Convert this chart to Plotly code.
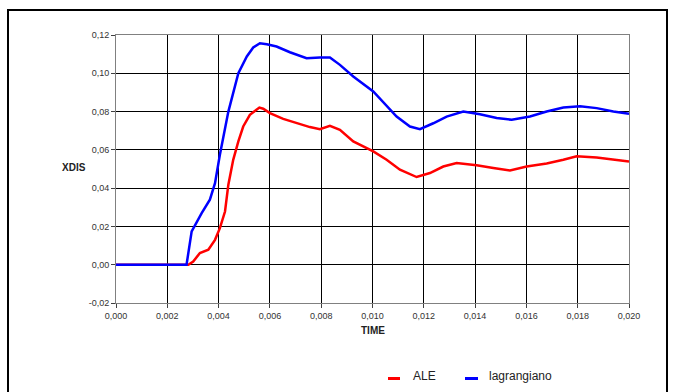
import plotly.graph_objects as go

# ALE series
ale_t = [0.0, 0.00282, 0.00301, 0.00327, 0.0036, 0.00386, 0.00405, 0.00425, 0.00438, 0.00457,
         0.00477, 0.00496, 0.00522, 0.00559, 0.00574, 0.006, 0.00652, 0.00704, 0.00756, 0.00795,
         0.00834, 0.00873, 0.00925, 0.01003, 0.01055, 0.01107, 0.01172, 0.01224, 0.01276, 0.01328,
         0.01406, 0.01471, 0.01536, 0.01601, 0.01679, 0.01744, 0.01796, 0.01874, 0.01939, 0.02]
ale_v = [0.0, 0.0, 0.0017, 0.0061, 0.0078, 0.013, 0.0191, 0.0278, 0.0418, 0.0548,
         0.0644, 0.0722, 0.0783, 0.0821, 0.0815, 0.0792, 0.0762, 0.0739, 0.0719, 0.0708,
         0.0726, 0.0705, 0.0644, 0.0592, 0.0548, 0.0496, 0.0458, 0.0479, 0.0513, 0.0531,
         0.0519, 0.0505, 0.0492, 0.0513, 0.0529, 0.0548, 0.0566, 0.0560, 0.0548, 0.0539]

# lagrangiano series
lag_t = [0.0, 0.00275, 0.00295, 0.00321, 0.00334, 0.00366, 0.00386, 0.00405, 0.00438, 0.00477,
         0.0051, 0.00535, 0.00561, 0.00588, 0.00626, 0.00678, 0.00743, 0.00795, 0.00834, 0.00873,
         0.00925, 0.01003, 0.01094, 0.01146, 0.01185, 0.01237, 0.01289, 0.01354, 0.01419, 0.01484,
         0.01543, 0.01614, 0.01679, 0.01744, 0.01809, 0.01874, 0.01939, 0.02]
lag_v = [0.0, 0.0, 0.0174, 0.0243, 0.0269, 0.034, 0.0426, 0.0574, 0.080, 0.100,
         0.1088, 0.1135, 0.1157, 0.1152, 0.114, 0.111, 0.1079, 0.1083, 0.1083, 0.1044,
         0.0983, 0.0905, 0.0774, 0.0722, 0.0708, 0.0739, 0.0774, 0.0800, 0.0786, 0.0766,
         0.0757, 0.0774, 0.0800, 0.0821, 0.0828, 0.0818, 0.0800, 0.0788]

x_ticks = [0.000, 0.002, 0.004, 0.006, 0.008, 0.010, 0.012, 0.014, 0.016, 0.018, 0.020]
x_ticktext = ["0,000", "0,002", "0,004", "0,006", "0,008", "0,010", "0,012", "0,014",
              "0,016", "0,018", "0,020"]
y_ticks = [-0.02, 0.00, 0.02, 0.04, 0.06, 0.08, 0.10, 0.12]
y_ticktext = ["-0,02", "0,00", "0,02", "0,04", "0,06", "0,08", "0,10", "0,12"]
series_names = ["ALE", "lagrangiano"]
series_colors = ["#FF0000", "#0000FF"]

W, H = 675, 392
L, R, T, B = 116, 46, 35, 89
pw, ph = W - L - R, H - T - B


def px(xp):
    return (xp - L) / pw


def py(yp):
    return (H - B - yp) / ph


fig = go.Figure()
fig.add_trace(go.Scatter(x=ale_t, y=ale_v, mode="lines", name=series_names[0], showlegend=False,
                         line=dict(color=series_colors[0], width=2.5)))
fig.add_trace(go.Scatter(x=lag_t, y=lag_v, mode="lines", name=series_names[1], showlegend=False,
                         line=dict(color=series_colors[1], width=2.5)))

tickfont = dict(family="Liberation Sans, Arial", size=9, color="#333333")
fig.update_xaxes(range=[0, 0.02], tickvals=x_ticks, ticktext=x_ticktext, tickfont=tickfont,
                 showgrid=True, gridcolor="#000000", gridwidth=1,
                 showline=True, linecolor="#808080", linewidth=1, mirror=True,
                 ticks="outside", ticklen=4, tickcolor="#404040", zeroline=False)
fig.update_yaxes(range=[-0.02, 0.12], tickvals=y_ticks, ticktext=y_ticktext, tickfont=tickfont,
                 showgrid=True, gridcolor="#000000", gridwidth=1,
                 showline=True, linecolor="#808080", linewidth=1, mirror=True,
                 ticks="outside", ticklen=4, tickcolor="#404040", zeroline=False)

fig.add_annotation(text="<b>XDIS</b>", xref="paper", yref="paper",
                   x=px(60), y=py(167), showarrow=False,
                   font=dict(family="Liberation Sans, Arial", size=10, color="#222222"))
fig.add_annotation(text="<b>TIME</b>", xref="paper", yref="paper",
                   x=px(373), y=py(338), showarrow=False,
                   font=dict(family="Liberation Sans, Arial", size=10, color="#222222"))

# outer frame
fig.add_shape(type="rect", xref="paper", yref="paper",
              x0=px(8), x1=px(667), y0=py(400), y1=py(10),
              line=dict(color="#000000", width=2), fillcolor="rgba(0,0,0,0)", layer="below")

# legend (drawn manually to match short swatches)
legend_items = [(388, 400, 411), (465, 478, 487)]
for (s0, s1, tx), name, col in zip(legend_items, series_names, series_colors):
    fig.add_shape(type="line", xref="paper", yref="paper",
                  x0=px(s0), x1=px(s1), y0=py(378.5), y1=py(378.5),
                  line=dict(color=col, width=3))
    fig.add_annotation(text=name, xref="paper", yref="paper", x=px(tx), y=py(376),
                       xanchor="left", yanchor="middle", showarrow=False,
                       font=dict(family="Liberation Sans, Arial", size=12, color="#222222"))

fig.update_layout(
    width=W, height=H, margin=dict(l=L, r=R, t=T, b=B),
    paper_bgcolor="white", plot_bgcolor="white",
    showlegend=False,
)

fig.write_html("out.html", config={"displayModeBar": False},
               post_script="document.body.style.margin='0';")
